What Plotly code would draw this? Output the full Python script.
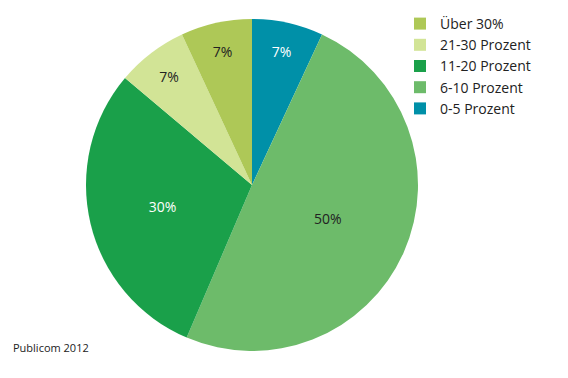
import plotly.graph_objects as go

labels = ["0-5 Prozent", "6-10 Prozent", "11-20 Prozent", "21-30 Prozent", "Über 30%"]
values = [7, 50, 30, 7, 7]
text_labels = ["7%", "50%", "30%", "7%", "7%"]
colors = ["#0090a8", "#6dbb6a", "#1aa04a", "#d2e496", "#aec857"]
text_colors = ["#ffffff", "#222222", "#ffffff", "#222222", "#222222"]

fig = go.Figure(go.Pie(
    labels=labels,
    values=values,
    text=text_labels,
    textinfo="text",
    textposition="inside",
    insidetextorientation="horizontal",
    sort=False,
    direction="clockwise",
    rotation=0,
    marker=dict(colors=colors, line=dict(width=0)),
    insidetextfont=dict(color=text_colors, size=14, family="Open Sans"),
    domain=dict(x=[78/568, 410/568], y=[34/378, 368/378]),
    hoverinfo="label+percent",
))

fig.add_annotation(
    text="Publicom 2012", x=3/568, y=(378-339)/378, xref="paper", yref="paper",
    xanchor="left", yanchor="middle", showarrow=False,
    font=dict(size=11, family="Open Sans", color="#222222"),
)

fig.update_layout(
    width=568, height=378,
    margin=dict(l=0, r=0, t=0, b=0),
    paper_bgcolor="white",
    plot_bgcolor="white",
    font=dict(family="Open Sans", size=13, color="#222222"),
    legend=dict(
        x=392/568, y=1.0, xanchor="left", yanchor="top",
        traceorder="reversed",
        font=dict(size=14, family="Open Sans", color="#222222"),
        itemsizing="constant",
        bgcolor="rgba(0,0,0,0)",
    ),
    showlegend=True,
)

fig.write_html("out.html")
